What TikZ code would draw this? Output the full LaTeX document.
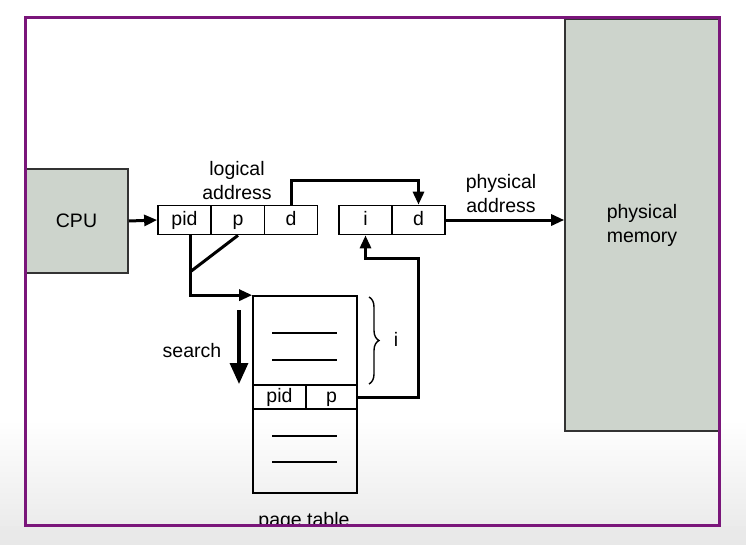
\documentclass[tikz,border=0pt]{standalone}
\usepackage{fontspec}
\setmainfont{Liberation Sans}
\usetikzlibrary{arrows.meta,decorations.pathreplacing}
\definecolor{memgray}{RGB}{205,212,204}
\definecolor{framepurple}{RGB}{122,22,122}
\definecolor{bglow}{RGB}{232,232,232}
\tikzset{
  lbl/.style={font=\fontsize{19.5}{24}\selectfont, align=center, inner sep=0pt},
  cell/.style={draw, line width=1.7pt, minimum height=29pt, inner sep=0pt, text height=14pt, text depth=4pt, font=\fontsize{19.5}{24}\selectfont},
  grayblock/.style={draw=black!80, line width=1.6pt, fill=memgray, inner sep=0pt, font=\fontsize{19.5}{24}\selectfont, align=center},
  arr/.style={line width=3pt, -{Triangle[length=13pt,width=11pt]}},
  conn/.style={line width=3pt},
  tick/.style={line width=1.3pt}
}
\begin{document}
\begin{tikzpicture}[x=1pt,y=-1pt]
\useasboundingbox (0,0) rectangle (746,544);
% background
\fill[white] (0,0) rectangle (746,544);
\shade[top color=white, bottom color=bglow] (0,420) rectangle (746,544);
% physical memory and CPU
\node[grayblock, minimum width=154pt, minimum height=412pt] (mem) at (642,225) {physical\\memory};
\node[grayblock, minimum width=103pt, minimum height=104pt] (cpu) at (76.5,221) {CPU};
% logical address
\node[cell, minimum width=53pt] (lpid) at (184.5,220) {pid};
\node[cell, minimum width=53pt] (lp) at (238,220) {p};
\node[cell, minimum width=53pt] (ld) at (291,220) {d};
% physical address
\node[cell, minimum width=53pt] (pi) at (365.5,220) {i};
\node[cell, minimum width=53pt] (pd) at (418.5,220) {d};
% page table
\node[draw, line width=1.7pt, minimum width=104pt, minimum height=197pt, inner sep=0pt] (pt) at (305,394.5) {};
\node[cell, minimum width=53pt, minimum height=24pt] (epid) at (279.5,397) {pid};
\node[cell, minimum width=51pt, minimum height=24pt] (ep) at (331.5,397) {p};
\coordinate (r1a) at (272,333); \coordinate (r1b) at (337,333);
\coordinate (r2a) at (272,360); \coordinate (r2b) at (337,360);
\coordinate (r3a) at (272,436); \coordinate (r3b) at (337,436);
\coordinate (r4a) at (272,462); \coordinate (r4b) at (337,462);
\draw[tick] (r1a) -- (r1b);
\draw[tick] (r2a) -- (r2b);
\draw[tick] (r3a) -- (r3b);
\draw[tick] (r4a) -- (r4b);
% labels
\node[lbl] (lal) at (237,181) {logical\\address};
\node[lbl] (pal) at (501,194) {physical\\address};
\node[lbl] (srch) at (192,351) {search};
\node[lbl] (ilbl) at (396,339) {i};
% connectors
\draw[arr] (cpu.east) -- (lpid.west);
\draw[arr] (ld.north) -- ++(0,-24) -| (pd.north);
\draw[arr] (pd.east) -- (pd.east -| mem.west);
\coordinate (j) at (190,272);
\draw[conn] (lp.south) -- (j);
\draw[arr] (lpid.south -| j) |- (pt.north west);
\coordinate (s1) at (239,310);
\coordinate (s2) at (239,384);
\draw[line width=3.4pt, -{Triangle[length=21pt,width=18pt]}] (s1) -- (s2);
\coordinate (rr) at (418,258);
\draw[arr] (ep.east) -- (ep.east -| rr) -- (rr) -- (rr -| pi.south) -- (pi.south);
\coordinate (b1) at (369,297);
\coordinate (b2) at (369,384);
\draw[line width=1.4pt, decorate, decoration={brace, amplitude=10pt}] (b1) -- (b2);
% page table label (partly hidden by frame)
\node[lbl, anchor=base] (ptl) at (304,526) {page table};
\shade[top color=bglow!92!white, bottom color=bglow] (0,526.5) rectangle (746,544);
% frame
\draw[framepurple, line width=3pt] (25.5,17.5) rectangle (719.5,525.5);
\end{tikzpicture}
\end{document}
